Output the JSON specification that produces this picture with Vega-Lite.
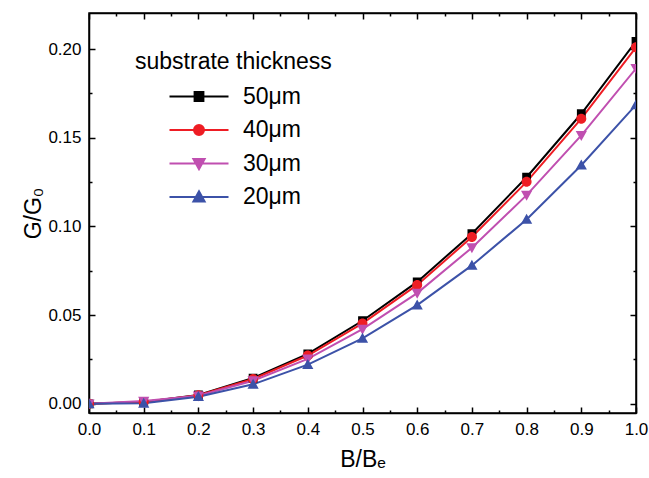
{
  "$schema": "https://vega.github.io/schema/vega-lite/v6.json",
  "width": 547,
  "height": 400,
  "autosize": "none",
  "padding": {"left": 89, "top": 13, "right": 13, "bottom": 65},
  "background": "white",
  "config": {"font": "Liberation Sans", "view": {"stroke": "black", "strokeWidth": 1.5}},
  "data": {"values": [
    {"x": 0.0, "G": 0.0, "series": "50μm"},
    {"x": 0.1, "G": 0.001, "series": "50μm"},
    {"x": 0.2, "G": 0.005, "series": "50μm"},
    {"x": 0.3, "G": 0.0145, "series": "50μm"},
    {"x": 0.4, "G": 0.0281, "series": "50μm"},
    {"x": 0.5, "G": 0.0468, "series": "50μm"},
    {"x": 0.6, "G": 0.0687, "series": "50μm"},
    {"x": 0.7, "G": 0.0959, "series": "50μm"},
    {"x": 0.8, "G": 0.1277, "series": "50μm"},
    {"x": 0.9, "G": 0.1635, "series": "50μm"},
    {"x": 1.0, "G": 0.2043, "series": "50μm"},
    {"x": 0.0, "G": 0.0, "series": "40μm"},
    {"x": 0.1, "G": 0.001, "series": "40μm"},
    {"x": 0.2, "G": 0.0048, "series": "40μm"},
    {"x": 0.3, "G": 0.014, "series": "40μm"},
    {"x": 0.4, "G": 0.0272, "series": "40μm"},
    {"x": 0.5, "G": 0.0453, "series": "40μm"},
    {"x": 0.6, "G": 0.067, "series": "40μm"},
    {"x": 0.7, "G": 0.094, "series": "40μm"},
    {"x": 0.8, "G": 0.1251, "series": "40μm"},
    {"x": 0.9, "G": 0.1607, "series": "40μm"},
    {"x": 1.0, "G": 0.201, "series": "40μm"},
    {"x": 0.0, "G": 0.0, "series": "30μm"},
    {"x": 0.1, "G": 0.0015, "series": "30μm"},
    {"x": 0.2, "G": 0.0045, "series": "30μm"},
    {"x": 0.3, "G": 0.013, "series": "30μm"},
    {"x": 0.4, "G": 0.0253, "series": "30μm"},
    {"x": 0.5, "G": 0.0421, "series": "30μm"},
    {"x": 0.6, "G": 0.0624, "series": "30μm"},
    {"x": 0.7, "G": 0.088, "series": "30μm"},
    {"x": 0.8, "G": 0.1176, "series": "30μm"},
    {"x": 0.9, "G": 0.1513, "series": "30μm"},
    {"x": 1.0, "G": 0.189, "series": "30μm"},
    {"x": 0.0, "G": 0.0, "series": "20μm"},
    {"x": 0.1, "G": 0.0003, "series": "20μm"},
    {"x": 0.2, "G": 0.004, "series": "20μm"},
    {"x": 0.3, "G": 0.011, "series": "20μm"},
    {"x": 0.4, "G": 0.0221, "series": "20μm"},
    {"x": 0.5, "G": 0.0369, "series": "20μm"},
    {"x": 0.6, "G": 0.0556, "series": "20μm"},
    {"x": 0.7, "G": 0.078, "series": "20μm"},
    {"x": 0.8, "G": 0.1039, "series": "20μm"},
    {"x": 0.9, "G": 0.1345, "series": "20μm"},
    {"x": 1.0, "G": 0.1685, "series": "20μm"}
  ]},
  "layer": [
    {
      "mark": {"type": "line", "strokeWidth": 2, "clip": true},
      "encoding": {
        "x": {"field": "x", "type": "quantitative",
          "scale": {"domain": [0, 1], "nice": false, "zero": false},
          "axis": {"orient": "bottom",
            "values": [0, 0.05, 0.1, 0.15, 0.2, 0.25, 0.3, 0.35, 0.4, 0.45, 0.5, 0.55, 0.6, 0.65, 0.7, 0.75, 0.8, 0.85, 0.9, 0.95, 1.0],
            "labelExpr": "abs(datum.value*10-round(datum.value*10))<0.001 ? format(datum.value,'.1f') : ''",
            "tickSize": {"condition": {"test": "abs(datum.value*10-round(datum.value*10))<0.001", "value": -6}, "value": -3},
            "tickColor": "black", "tickWidth": 1.5, "domainColor": "black", "domainWidth": 1.5,
            "labelFontSize": 17, "labelColor": "black", "labelPadding": 14, "labelFlush": false, "labelOverlap": false,
            "title": "B/Bₑ", "titleFontSize": 23, "titleFontWeight": "normal", "titleColor": "black", "titlePadding": 8, "grid": false}},
        "y": {"field": "G", "type": "quantitative",
          "scale": {"domain": [-0.0052, 0.2203], "nice": false, "zero": false},
          "axis": {"orient": "left",
            "values": [0, 0.025, 0.05, 0.075, 0.1, 0.125, 0.15, 0.175, 0.2],
            "labelExpr": "abs(datum.value*20-round(datum.value*20))<0.001 ? format(datum.value,'.2f') : ''",
            "tickSize": {"condition": {"test": "abs(datum.value*20-round(datum.value*20))<0.001", "value": -6}, "value": -3},
            "tickColor": "black", "tickWidth": 1.5, "domainColor": "black", "domainWidth": 1.5,
            "labelFontSize": 17, "labelColor": "black", "labelPadding": 14, "labelFlush": false, "labelOverlap": false,
            "title": "G/G₀", "titleFontSize": 23, "titleFontWeight": "normal", "titleColor": "black", "titlePadding": 2, "grid": false}},
        "color": {"field": "series", "type": "nominal",
          "scale": {"domain": ["50μm", "40μm", "30μm", "20μm"], "range": ["#000000", "#EE1D24", "#C04FB0", "#3C52A8"]},
          "legend": {"title": "substrate thickness", "orient": "none", "legendX": 46, "legendY": 38, "padding": 0,
            "titleFontSize": 23, "titleFontWeight": "normal", "titleColor": "black", "titlePadding": 11, "titleLimit": 500,
            "labelFontSize": 23, "labelColor": "black", "symbolSize": 400, "symbolOffset": 52.5, "labelOffset": 32.5,
            "rowPadding": 9.5, "symbolStrokeWidth": 2,
            "encode": {"symbols": {"update": {
              "fill": {"signal": "scale('color', datum.value)"},
              "stroke": {"signal": "scale('color', datum.value)"},
              "strokeWidth": {"value": 2},
              "opacity": {"value": 1}}}}}}
      }
    },
    {
      "mark": {"type": "point", "filled": true, "opacity": 1, "size": 400, "clip": true},
      "encoding": {
        "x": {"field": "x", "type": "quantitative",
          "axis": {"orient": "top",
            "values": [0, 0.05, 0.1, 0.15, 0.2, 0.25, 0.3, 0.35, 0.4, 0.45, 0.5, 0.55, 0.6, 0.65, 0.7, 0.75, 0.8, 0.85, 0.9, 0.95, 1.0],
            "labels": false, "title": null,
            "tickSize": {"condition": {"test": "abs(datum.value*10-round(datum.value*10))<0.001", "value": -6}, "value": -3},
            "tickColor": "black", "tickWidth": 1.5, "domainColor": "black", "domainWidth": 1.5, "grid": false}},
        "y": {"field": "G", "type": "quantitative",
          "axis": {"orient": "right",
            "values": [0, 0.025, 0.05, 0.075, 0.1, 0.125, 0.15, 0.175, 0.2],
            "labels": false, "title": null,
            "tickSize": {"condition": {"test": "abs(datum.value*20-round(datum.value*20))<0.001", "value": -6}, "value": -3},
            "tickColor": "black", "tickWidth": 1.5, "domainColor": "black", "domainWidth": 1.5, "grid": false}},
        "color": {"field": "series", "type": "nominal",
          "legend": {"title": "substrate thickness", "orient": "none", "legendX": 46, "legendY": 38, "padding": 0,
            "titleFontSize": 23, "titleFontWeight": "normal", "titleColor": "black", "titlePadding": 11, "titleLimit": 500,
            "labelFontSize": 23, "labelColor": "black", "symbolSize": 400, "symbolOffset": 52.5, "labelOffset": 32.5,
            "rowPadding": 9.5, "symbolStrokeWidth": 2,
            "encode": {"symbols": {"update": {
              "fill": {"signal": "scale('color', datum.value)"},
              "stroke": {"signal": "scale('color', datum.value)"},
              "strokeWidth": {"value": 2},
              "opacity": {"value": 1}}}}}},
        "shape": {"field": "series", "type": "nominal",
          "scale": {"domain": ["50μm", "40μm", "30μm", "20μm"],
            "range": ["M-2.95,0H2.95M-0.44,-0.44H0.44V0.44H-0.44Z", "M-2.95,0H2.95M0.5,0A0.5,0.5,0,1,1,-0.5,0A0.5,0.5,0,1,1,0.5,0Z", "M-2.95,0H2.95M-0.56,-0.44H0.56L0,0.56Z", "M-2.95,0H2.95M-0.56,0.44H0.56L0,-0.56Z"]},
          "legend": null}
      }
    }
  ],
  "resolve": {"axis": {"x": "independent", "y": "independent"}}
}
